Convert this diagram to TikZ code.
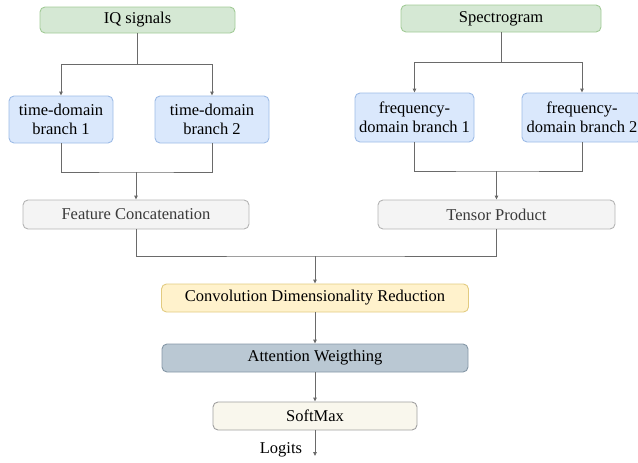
\documentclass[tikz,border=0pt]{standalone}
\usepackage{fontspec}
\setmainfont{Liberation Serif}
\usetikzlibrary{arrows.meta}
\definecolor{greenfill}{HTML}{D5E8D4}\definecolor{greenline}{HTML}{A2CB97}
\definecolor{bluefill}{HTML}{DAE8FC}\definecolor{blueline}{HTML}{9DBBE6}
\definecolor{grayfill}{HTML}{F4F4F4}\definecolor{grayline}{HTML}{B4B4B4}
\definecolor{yelfill}{HTML}{FFF2CC}\definecolor{yelline}{HTML}{E2CB80}
\definecolor{attfill}{HTML}{BAC8D3}\definecolor{attline}{HTML}{8597A6}
\definecolor{smfill}{HTML}{F9F7ED}\definecolor{smline}{HTML}{A0A0A0}
\definecolor{wire}{HTML}{6A6A6A}
\definecolor{greytext}{HTML}{3A3A3A}
\tikzset{
  box/.style={rounded corners=5pt, line width=0.9pt, inner sep=0pt, align=center,
    font=\fontsize{16.5}{19}\selectfont},
  inbox/.style={box, fill=greenfill, draw=greenline},
  branchbox/.style={box, fill=bluefill, draw=blueline},
  mergebox/.style={box, fill=grayfill, draw=grayline, text=greytext},
  convbox/.style={box, fill=yelfill, draw=yelline},
  attbox/.style={box, fill=attfill, draw=attline},
  smbox/.style={box, fill=smfill, draw=smline},
  wireline/.style={draw=wire, line width=0.9pt},
  arr/.style={wireline, -{Triangle[length=4pt, width=3.5pt]}},
}
\begin{document}
\begin{tikzpicture}[x=1pt, y=-1pt]
\useasboundingbox (0,0) rectangle (638,463);
\begin{scope}
\clip (0,0) rectangle (638,463);
% inputs
\node[inbox, minimum width=195pt, minimum height=26pt] (iq) at (137.5,20) {IQ signals};
\node[inbox, minimum width=200pt, minimum height=27pt] (spec) at (501,18.5) {Spectrogram};
% branches
\node[branchbox, minimum width=104pt, minimum height=47pt] (t1) at (61,119.5) {time-domain\\branch 1};
\node[branchbox, minimum width=114pt, minimum height=47pt] (t2) at (212,119.5) {time-domain\\branch 2};
\node[branchbox, minimum width=119pt, minimum height=49pt] (f1) at (414.5,117.5) {frequency-\\domain branch 1};
\node[branchbox, minimum width=120pt, minimum height=49pt] (f2) at (582,117.5) {frequency-\\domain branch 2};
% fusion
\node[mergebox, minimum width=226pt, minimum height=29pt] (fc) at (136,214.5) {Feature Concatenation};
\node[mergebox, minimum width=237pt, minimum height=29pt] (tp) at (496.5,214.5) {Tensor Product};
\node[convbox, minimum width=307pt, minimum height=28pt] (conv) at (315,298) {Convolution Dimensionality Reduction};
\node[attbox, minimum width=306pt, minimum height=28pt] (att) at (315,358) {Attention Weigthing};
\node[smbox, minimum width=204pt, minimum height=28pt] (sm) at (315,416) {SoftMax};
\node[font=\fontsize{16.5}{19}\selectfont] (logits) at (281,450) {Logits};
\end{scope}
% junction points
\coordinate (jiq) at (137.5,64);
\coordinate (jsp) at (501,62);
\coordinate (jt) at (136,172);
\coordinate (jf) at (496.5,171);
\coordinate (jb) at (315,256);
\coordinate (out) at (315,456);
% connectors
\draw[wireline] (iq.south) -- (jiq);
\draw[arr] (jiq) -| (t1.north);
\draw[arr] (jiq) -| (t2.north);
\draw[wireline] (spec.south) -- (jsp);
\draw[arr] (jsp) -| (f1.north);
\draw[arr] (jsp) -| (f2.north);
\draw[wireline] (t1.south) |- (jt) -| (t2.south);
\draw[arr] (jt) -- (fc.north);
\draw[wireline] (f1.south) |- (jf) -| (f2.south);
\draw[arr] (jf) -- (tp.north);
\draw[wireline] (fc.south) |- (jb) -| (tp.south);
\draw[arr] (jb) -- (conv.north);
\draw[arr] (conv.south) -- (att.north);
\draw[arr] (att.south) -- (sm.north);
\draw[arr] (sm.south) -- (out);
\end{tikzpicture}
\end{document}
